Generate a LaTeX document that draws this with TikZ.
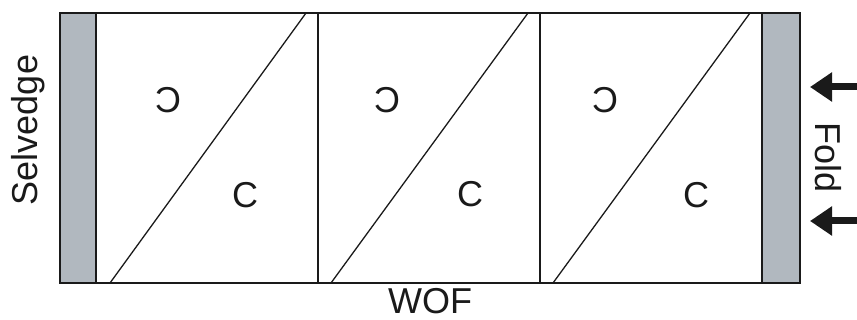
\documentclass[tikz,border=0pt]{standalone}
\usepackage{fontspec}
\setmainfont{Liberation Sans}
\usepackage{graphicx}
\usetikzlibrary{arrows.meta}
\definecolor{band}{HTML}{B1B8BF}
\definecolor{ink}{HTML}{1A1A1A}
\tikzset{
  thin line/.style={draw=ink, line width=1.3pt},
  outer line/.style={draw=ink, line width=2.6pt},
  lbl/.style={inner sep=0pt, font=\fontsize{36}{36}\selectfont, text=ink},
  foldarrow/.style={draw=ink, line width=7pt, -{Triangle[length=22pt,width=28pt]}}
}
\begin{document}
\begin{tikzpicture}[x=1pt,y=-1pt]
\useasboundingbox (0,0) rectangle (857,320);
% selvedge bands
\fill[band] (60,13) rectangle (96,283);
\fill[band] (762,13) rectangle (800,283);
% dividers
\draw[thin line] (96,13) -- (96,283);
\draw[thin line] (318,13) -- (318,283);
\draw[thin line] (540,13) -- (540,283);
\draw[thin line] (762,13) -- (762,283);
% diagonals
\draw[thin line] (110,283) -- (306,13);
\draw[thin line] (331,283) -- (528,13);
\draw[thin line] (553,283) -- (750,13);
% outer frame
\draw[outer line] (60,13) rectangle (800,283);
% letters
\node[lbl] (m1) at (168,100) {\reflectbox{C}};
\node[lbl] (c1) at (245,195) {C};
\node[lbl] (m2) at (387,100) {\reflectbox{C}};
\node[lbl] (c2) at (470,194) {C};
\node[lbl] (m3) at (605,100) {\reflectbox{C}};
\node[lbl] (c3) at (696,195) {C};
% labels
\node[lbl, rotate=90] (selv) at (28,130) {Selvedge};
\node[lbl] (wof) at (430,301) {WOF};
\node[lbl, rotate=-90] (fold) at (828,158) {Fold};
% arrows
\coordinate (a1s) at (857,87);
\coordinate (a1e) at (810,87);
\coordinate (a2s) at (857,221);
\coordinate (a2e) at (810,221);
\draw[foldarrow] (a1s) -- (a1e);
\draw[foldarrow] (a2s) -- (a2e);
\end{tikzpicture}
\end{document}
